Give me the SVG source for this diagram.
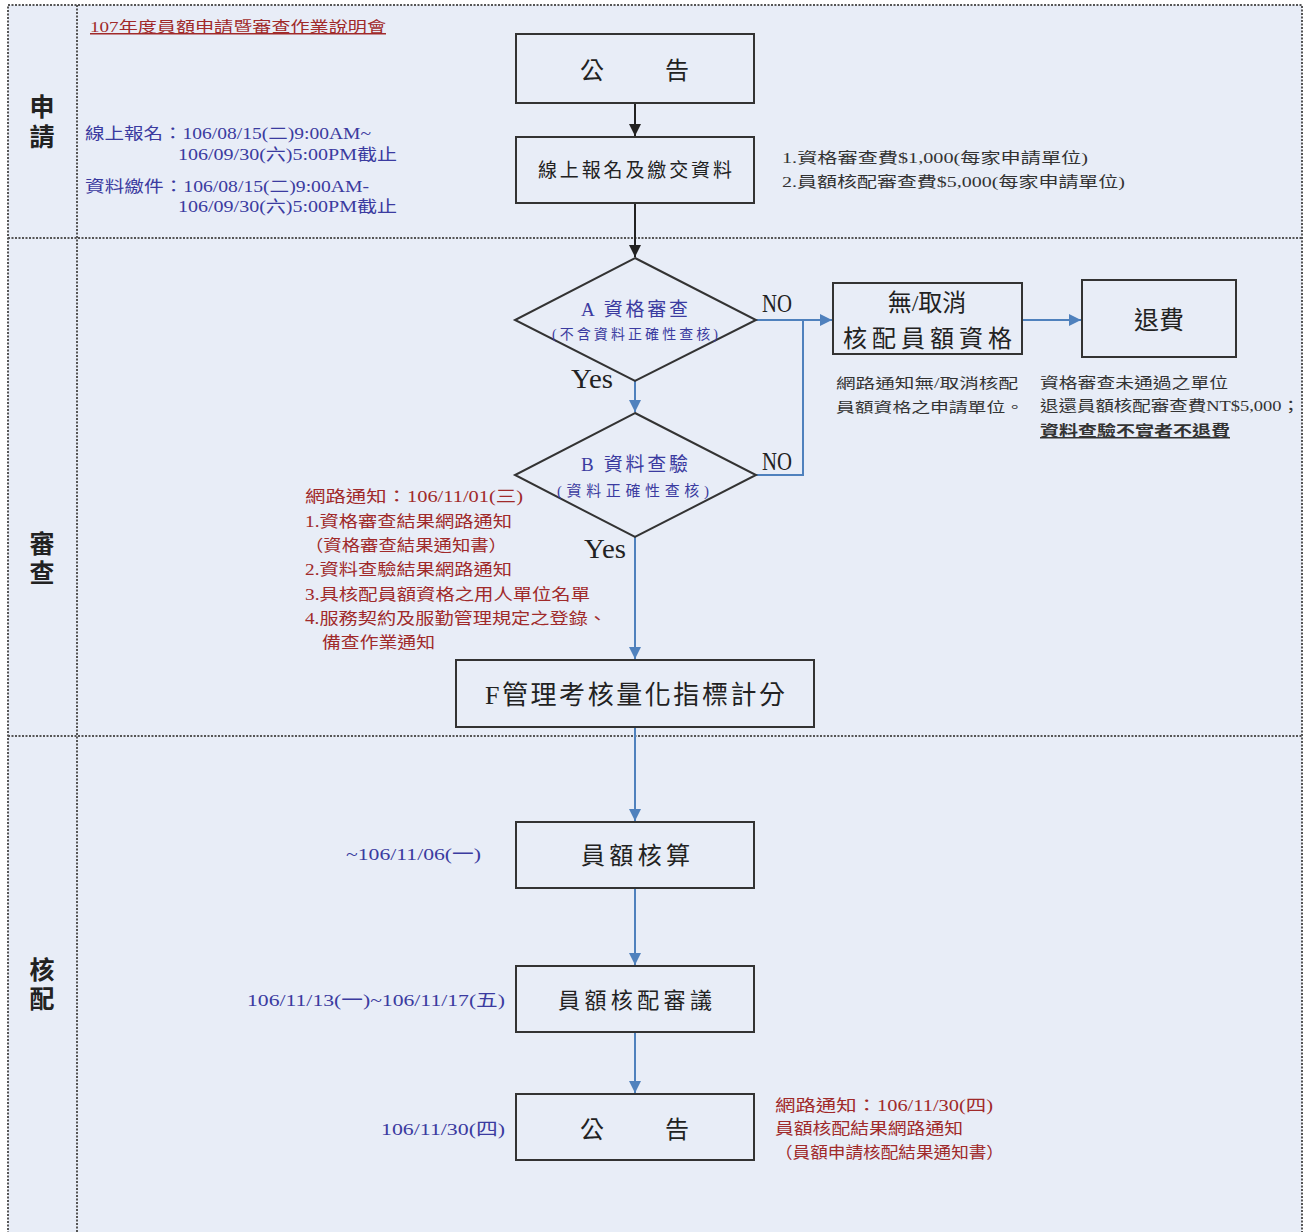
<svg xmlns="http://www.w3.org/2000/svg" width="1306" height="1232" viewBox="0 0 1306 1232">
<defs>
<style>
.lane{fill:#e8edf7;stroke:#555;stroke-width:2;stroke-dasharray:2 1.5}
.div{stroke:#555;stroke-width:2;stroke-dasharray:2 1.5;fill:none}
.box{fill:#e8edf7;stroke:#333;stroke-width:2}
.t{font-family:"Liberation Serif","Noto Sans CJK TC",serif;fill:#222}
.bl{font-family:"Liberation Serif","Noto Sans CJK TC",serif;fill:#3b3ba0}
.rd{font-family:"Liberation Serif","Noto Sans CJK TC",serif;fill:#a02a2a}
.gy{font-family:"Liberation Serif","Noto Sans CJK TC",serif;fill:#333}
.cb{stroke:#4f81bd;stroke-width:2;fill:none}
.ck{stroke:#222;stroke-width:2;fill:none}
</style>
<marker id="ab" viewBox="0 0 10 10" refX="10" refY="5" markerWidth="12" markerHeight="12" markerUnits="userSpaceOnUse" orient="auto"><path d="M0,0 L10,5 L0,10 z" fill="#4f81bd"/></marker>
<marker id="ak" viewBox="0 0 10 10" refX="10" refY="5" markerWidth="12" markerHeight="12" markerUnits="userSpaceOnUse" orient="auto"><path d="M0,0 L10,5 L0,10 z" fill="#222"/></marker>
</defs>
<rect x="0" y="0" width="1306" height="1232" fill="#ffffff"/>
<g id="lanes">
<rect class="lane" x="8" y="5" width="1294" height="1240"/>
<line class="div" x1="8" y1="238" x2="1302" y2="238"/>
<line class="div" x1="8" y1="736" x2="1302" y2="736"/>
<line class="div" x1="77" y1="5" x2="77" y2="1240"/>
<text class="t" x="42" y="116" font-size="25" font-weight="bold" text-anchor="middle">申</text>
<text class="t" x="42" y="146" font-size="25" font-weight="bold" text-anchor="middle">請</text>
<text class="t" x="42" y="553" font-size="25" font-weight="bold" text-anchor="middle">審</text>
<text class="t" x="42" y="582" font-size="25" font-weight="bold" text-anchor="middle">查</text>
<text class="t" x="42" y="979" font-size="25" font-weight="bold" text-anchor="middle">核</text>
<text class="t" x="42" y="1008" font-size="25" font-weight="bold" text-anchor="middle">配</text>
</g>
<g id="notes">
<text class="rd" x="90" y="32" font-size="15" textLength="296" lengthAdjust="spacingAndGlyphs" text-decoration="underline">107年度員額申請暨審查作業說明會</text>
<text class="bl" x="85" y="139" font-size="16" textLength="286" lengthAdjust="spacingAndGlyphs">線上報名：106/08/15(二)9:00AM~</text>
<text class="bl" x="178" y="160" font-size="16" textLength="219" lengthAdjust="spacingAndGlyphs">106/09/30(六)5:00PM截止</text>
<text class="bl" x="85" y="192" font-size="16" textLength="284" lengthAdjust="spacingAndGlyphs">資料繳件：106/08/15(二)9:00AM-</text>
<text class="bl" x="178" y="212" font-size="16" textLength="219" lengthAdjust="spacingAndGlyphs">106/09/30(六)5:00PM截止</text>
<text class="gy" x="782" y="163" font-size="15" textLength="306" lengthAdjust="spacingAndGlyphs">1.資格審查費$1,000(每家申請單位)</text>
<text class="gy" x="782" y="187" font-size="15" textLength="343" lengthAdjust="spacingAndGlyphs">2.員額核配審查費$5,000(每家申請單位)</text>
<text class="gy" x="836" y="388" font-size="14" textLength="182" lengthAdjust="spacingAndGlyphs">網路通知無/取消核配</text>
<text class="gy" x="836" y="412" font-size="14" textLength="188" lengthAdjust="spacingAndGlyphs">員額資格之申請單位。</text>
<text class="gy" x="1040" y="388" font-size="15" textLength="188" lengthAdjust="spacingAndGlyphs">資格審查未通過之單位</text>
<text class="gy" x="1040" y="411" font-size="15" textLength="260" lengthAdjust="spacingAndGlyphs">退還員額核配審查費NT$5,000；</text>
<text class="gy" x="1040" y="436" font-size="15" font-weight="bold" textLength="190" lengthAdjust="spacingAndGlyphs" text-decoration="underline">資料查驗不實者不退費</text>
<text class="rd" x="305" y="502" font-size="16" textLength="218" lengthAdjust="spacingAndGlyphs">網路通知：106/11/01(三)</text>
<text class="rd" x="305" y="527" font-size="16" textLength="207" lengthAdjust="spacingAndGlyphs">1.資格審查結果網路通知</text>
<text class="rd" x="305" y="551" font-size="16" textLength="202" lengthAdjust="spacingAndGlyphs">（資格審查結果通知書）</text>
<text class="rd" x="305" y="575" font-size="16" textLength="207" lengthAdjust="spacingAndGlyphs">2.資料查驗結果網路通知</text>
<text class="rd" x="305" y="600" font-size="16" textLength="285" lengthAdjust="spacingAndGlyphs">3.具核配員額資格之用人單位名單</text>
<text class="rd" x="305" y="624" font-size="16" textLength="302" lengthAdjust="spacingAndGlyphs">4.服務契約及服勤管理規定之登錄、</text>
<text class="rd" x="322" y="648" font-size="16" textLength="113" lengthAdjust="spacingAndGlyphs">備查作業通知</text>
<text class="bl" x="481" y="860" font-size="17" text-anchor="end" textLength="135" lengthAdjust="spacingAndGlyphs">~106/11/06(一)</text>
<text class="bl" x="247" y="1006" font-size="17" textLength="258" lengthAdjust="spacingAndGlyphs">106/11/13(一)~106/11/17(五)</text>
<text class="bl" x="381" y="1135" font-size="17" textLength="124" lengthAdjust="spacingAndGlyphs">106/11/30(四)</text>
<text class="rd" x="775" y="1111" font-size="16" textLength="218" lengthAdjust="spacingAndGlyphs">網路通知：106/11/30(四)</text>
<text class="rd" x="775" y="1134" font-size="16" textLength="188" lengthAdjust="spacingAndGlyphs">員額核配結果網路通知</text>
<text class="rd" x="775" y="1158" font-size="16" textLength="229" lengthAdjust="spacingAndGlyphs">（員額申請核配結果通知書）</text>
</g>
<g id="connectors">
<line class="ck" x1="635" y1="103" x2="635" y2="136" marker-end="url(#ak)"/>
<line class="ck" x1="635" y1="203" x2="635" y2="257" marker-end="url(#ak)"/>
<line class="cb" x1="756" y1="320" x2="832" y2="320" marker-end="url(#ab)"/>
<polyline class="cb" points="756,475 803,475 803,320"/>
<line class="cb" x1="635" y1="381" x2="635" y2="412" marker-end="url(#ab)"/>
<line class="cb" x1="635" y1="537" x2="635" y2="659" marker-end="url(#ab)"/>
<line class="cb" x1="1022" y1="320" x2="1081" y2="320" marker-end="url(#ab)"/>
<line class="cb" x1="635" y1="727" x2="635" y2="821" marker-end="url(#ab)"/>
<line class="cb" x1="635" y1="888" x2="635" y2="965" marker-end="url(#ab)"/>
<line class="cb" x1="635" y1="1032" x2="635" y2="1093" marker-end="url(#ab)"/>
<text class="t" x="762" y="312" font-size="26" textLength="30" lengthAdjust="spacingAndGlyphs">NO</text>
<text class="t" x="762" y="470" font-size="26" textLength="30" lengthAdjust="spacingAndGlyphs">NO</text>
<text class="t" x="571" y="388" font-size="28" textLength="42" lengthAdjust="spacingAndGlyphs">Yes</text>
<text class="t" x="584" y="558" font-size="28" textLength="42" lengthAdjust="spacingAndGlyphs">Yes</text>
</g>
<g id="n-announce1">
<rect class="box" x="516" y="34" width="238" height="69"/>
<text class="t" x="580" y="79" font-size="24">公</text>
<text class="t" x="665" y="79" font-size="24">告</text>
</g>
<g id="n-register">
<rect class="box" x="516" y="137" width="238" height="66"/>
<text class="t" x="538" y="177" font-size="19" textLength="194" lengthAdjust="spacing">線上報名及繳交資料</text>
</g>
<g id="n-checkA">
<polygon class="box" points="635,258 756,320 635,381 515,320"/>
<text class="bl" x="581" y="316" font-size="19" textLength="107" lengthAdjust="spacing">A 資格審查</text>
<text class="bl" x="552" y="339" font-size="14" textLength="166" lengthAdjust="spacing">(不含資料正確性查核)</text>
</g>
<g id="n-checkB">
<polygon class="box" points="635,413 756,475 635,537 515,475"/>
<text class="bl" x="581" y="471" font-size="19" textLength="107" lengthAdjust="spacing">B 資料查驗</text>
<text class="bl" x="557" y="496" font-size="15" textLength="152" lengthAdjust="spacing">(資料正確性查核)</text>
</g>
<g id="n-cancel">
<rect class="box" x="833" y="283" width="189" height="71"/>
<text class="t" x="927" y="311" font-size="24" text-anchor="middle">無/取消</text>
<text class="t" x="843" y="347" font-size="24" textLength="169" lengthAdjust="spacing">核配員額資格</text>
</g>
<g id="n-refund">
<rect class="box" x="1082" y="280" width="154" height="77"/>
<text class="t" x="1159" y="329" font-size="25" text-anchor="middle">退費</text>
</g>
<g id="n-score">
<rect class="box" x="456" y="660" width="358" height="67"/>
<text class="t" x="485" y="704" font-size="26" textLength="300" lengthAdjust="spacing">F管理考核量化指標計分</text>
</g>
<g id="n-calc">
<rect class="box" x="516" y="822" width="238" height="66"/>
<text class="t" x="581" y="864" font-size="24" textLength="109" lengthAdjust="spacing">員額核算</text>
</g>
<g id="n-review">
<rect class="box" x="516" y="966" width="238" height="66"/>
<text class="t" x="558" y="1008" font-size="22" textLength="154" lengthAdjust="spacing">員額核配審議</text>
</g>
<g id="n-announce2">
<rect class="box" x="516" y="1094" width="238" height="66"/>
<text class="t" x="580" y="1138" font-size="24">公</text>
<text class="t" x="665" y="1138" font-size="24">告</text>
</g>
</svg>
